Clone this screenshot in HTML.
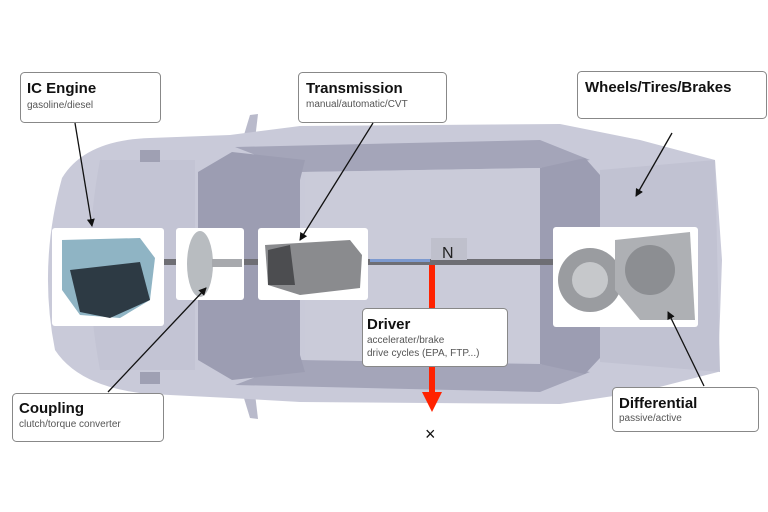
<!DOCTYPE html>
<html><head><style>
html,body{margin:0;padding:0;background:#fff;}
svg{display:block;}
text{font-family:"Liberation Sans",sans-serif;}
</style></head><body>
<svg width="768" height="512" viewBox="0 0 768 512" xmlns="http://www.w3.org/2000/svg">
<defs>
<marker id="ah" markerWidth="8" markerHeight="8" refX="7" refY="4" orient="auto" markerUnits="userSpaceOnUse"><path d="M0,0 L8,4 L0,8 Z" fill="#111"/></marker>
</defs>
<!-- mirrors -->
<path d="M240,148 L250,115 L258,114 L254,148 Z" fill="#b9bacb"/>
<path d="M240,385 L250,418 L258,419 L254,385 Z" fill="#b9bacb"/>
<!-- body -->
<path d="M62,178 Q85,140 150,138 L230,135 L300,126 L560,124 L640,140 L715,160 L722,260 L718,372 L640,392 L560,404 L300,402 L230,398 L150,394 Q80,388 55,350 Q38,265 62,178 Z" fill="#c9cad9"/>
<!-- front hood shading -->
<path d="M100,160 L195,160 L195,370 L100,370 Q80,265 100,160Z" fill="#c3c4d4"/>
<!-- side windows strips -->
<path d="M235,147 L540,140 L590,160 L540,168 L300,172 Z" fill="#a4a5b9"/>
<path d="M235,385 L540,392 L590,372 L540,364 L300,360 Z" fill="#a4a5b9"/>
<!-- windshield -->
<path d="M198,172 L232,152 L305,160 L300,180 L300,355 L305,372 L232,380 L198,360 Z" fill="#9c9db2"/>
<!-- roof -->
<path d="M305,172 L540,168 L545,362 L305,360 Z" fill="#cacbd9"/>
<!-- rear window -->
<path d="M540,168 L585,158 L600,175 L600,358 L585,374 L540,364 Z" fill="#9c9db2"/>
<!-- rear deck -->
<path d="M600,170 L715,160 L720,372 L600,362 Z" fill="#c1c2d2"/>
<path d="M140,150 L160,150 L160,162 L140,162Z M140,372 L160,372 L160,384 L140,384Z" fill="#9fa0b3"/>
<!-- shaft -->
<rect x="160" y="259" width="395" height="6" fill="#6e6e74"/>
<rect x="370" y="259" width="60" height="3" fill="#7d9ad0"/>
<!-- N label -->
<rect x="431" y="238" width="36" height="22" fill="#bfc0cc"/>
<text x="442" y="258" font-size="16" fill="#222">N</text>
<!-- red arrow -->
<rect x="429" y="265" width="6" height="130" fill="#ff2200"/>
<path d="M422,392 L442,392 L432,412 Z" fill="#ff2200"/>
<text x="425" y="440" font-size="18" fill="#111">×</text>
<!-- component images -->
<rect x="52" y="228" width="112" height="98" rx="3" fill="#fff"/>
<path d="M62,240 L140,238 L155,258 L150,300 L120,318 L80,315 L62,290 Z" fill="#8fb4c4"/>
<path d="M70,270 L140,262 L150,300 L110,318 L80,312 Z" fill="#2d3a44"/>
<rect x="176" y="228" width="68" height="72" rx="3" fill="#fff"/>
<ellipse cx="200" cy="264" rx="13" ry="33" fill="#b8bcc0"/>
<rect x="212" y="259" width="30" height="8" fill="#a7a9ad"/>
<rect x="258" y="228" width="110" height="72" rx="3" fill="#fff"/>
<path d="M265,245 L350,240 L362,255 L360,288 L300,295 L268,285 Z" fill="#8a8b8e"/>
<path d="M268,250 L290,245 L295,285 L268,285Z" fill="#4c4d50"/>
<rect x="553" y="227" width="145" height="100" rx="3" fill="#fff"/>
<circle cx="590" cy="280" r="32" fill="#9a9ca0"/>
<circle cx="590" cy="280" r="18" fill="#c6c8cb"/>
<path d="M615,240 L690,232 L695,320 L640,320 L615,290Z" fill="#aeb0b4"/>
<circle cx="650" cy="270" r="25" fill="#8c8e92"/>
<!-- label boxes -->
<g fill="#fff" stroke="#888" stroke-width="1">
<rect x="20.5" y="72.5" width="140" height="50" rx="4"/>
<rect x="298.5" y="72.5" width="148" height="50" rx="4"/>
<rect x="577.5" y="71.5" width="189" height="47" rx="4"/>
<rect x="362.5" y="308.5" width="145" height="58" rx="4"/>
<rect x="12.5" y="393.5" width="151" height="48" rx="4"/>
<rect x="612.5" y="387.5" width="146" height="44" rx="4"/>
</g>
<g fill="#111" font-weight="bold" font-size="15">
<text x="27" y="93">IC Engine</text>
<text x="306" y="93">Transmission</text>
<text x="585" y="92">Wheels/Tires/Brakes</text>
<text x="367" y="329">Driver</text>
<text x="19" y="413">Coupling</text>
<text x="619" y="408">Differential</text>
</g>
<g fill="#555" font-size="10">
<text x="27" y="108">gasoline/diesel</text>
<text x="306" y="107">manual/automatic/CVT</text>
<text x="367" y="343">accelerater/brake</text>
<text x="367" y="356">drive cycles (EPA, FTP...)</text>
<text x="19" y="427">clutch/torque converter</text>
<text x="619" y="421">passive/active</text>
</g>
<!-- pointer lines -->
<g stroke="#111" stroke-width="1.3" fill="none" marker-end="url(#ah)">
<line x1="75" y1="123" x2="92" y2="226"/>
<line x1="373" y1="123" x2="300" y2="240"/>
<line x1="672" y1="133" x2="636" y2="196"/>
<line x1="108" y1="392" x2="206" y2="288"/>
<line x1="704" y1="386" x2="668" y2="312"/>
</g>
</svg>
</body></html>
